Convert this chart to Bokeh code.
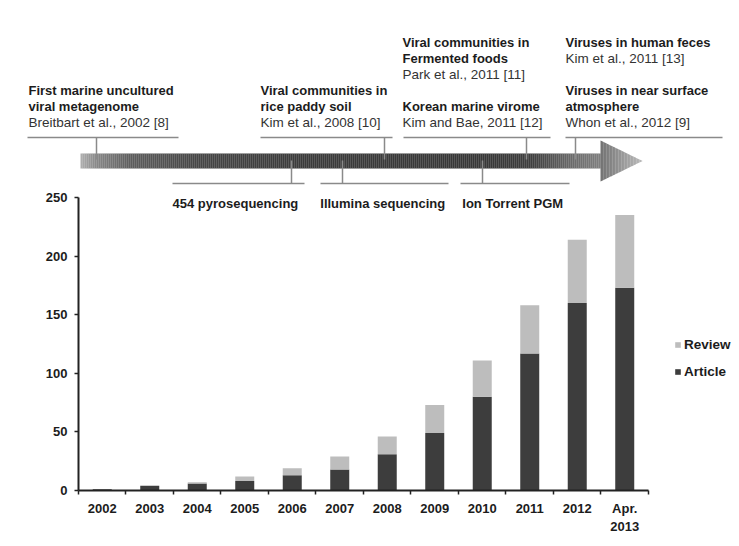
import numpy as np
from bokeh.plotting import figure
from bokeh.models import (Range1d, FixedTicker, Legend, LegendItem, ColumnDataSource)
from bokeh.core.properties import value
from bokeh.embed import file_html
from bokeh.resources import INLINE

# ---------------- data ----------------
years = ["2002", "2003", "2004", "2005", "2006", "2007", "2008", "2009", "2010",
         "2011", "2012", "Apr.\n2013"]
article = [1, 4, 6, 8, 13, 18, 31, 49, 80, 117, 160, 173]
review = [0, 0, 1, 4, 6, 11, 15, 24, 31, 41, 54, 62]
y_ticks = [0, 50, 100, 150, 200, 250]

tech_labels = ["454 pyrosequencing", "Illumina sequencing", "Ion Torrent PGM"]

# timeline annotation texts (bold headline lines / normal citation lines)
bold_lines = ["First marine uncultured", "viral metagenome",
              "Viral communities in", "rice paddy soil",
              "Viral communities in", "Fermented foods", "Korean marine virome",
              "Viruses in human feces", "Viruses in near surface", "atmosphere"]
cite_lines = ["Breitbart et al., 2002 [8]", "Kim et al., 2008 [10]",
              "Park et al., 2011 [11]", "Kim and Bae, 2011 [12]",
              "Kim et al., 2011 [13]", "Whon et al., 2012 [9]"]

# ---------------- layout (page pixel positions for the timeline drawing) ----------------
bold_x = [28, 28, 260, 260, 402, 402, 402, 565, 565, 565]
bold_y = [90, 106, 90, 106, 42, 58, 106, 42, 90, 106]
cite_x = [28, 260, 402, 402, 565, 565]
cite_y = [122, 122, 74, 122, 58, 122]

FONT = value("Liberation Sans")
TXT = "#1c1c1c"
W = 739

top = figure(width=W, height=190, x_range=Range1d(0, W), y_range=Range1d(190, 0),
             output_backend="svg", toolbar_location=None, min_border=0,
             x_axis_location=None, y_axis_location=None)
top.grid.visible = False
top.outline_line_color = None

# arrow body gradient (decoration)
stops_x = [80, 95, 130, 200, 300, 480, 530, 570, 600]
stops_c = [0xb0, 0x8a, 0x5e, 0x46, 0x3c, 0x38, 0x3e, 0x6a, 0x80]
xs = np.arange(80, 600, 2)
cs = np.interp(xs + 1, stops_x, stops_c).astype(int)
top.quad(left=xs, right=xs + 2.2, top=153, bottom=168,
         color=["#%02x%02x%02x" % (c, c, c) for c in cs], line_color=None)
# arrow head gradient
hx = np.arange(600, 642, 1.5)
hc = np.interp(hx, [600, 642], [0x74, 0xbd]).astype(int)
def hy(x):
    return (x - 600) * 20.5 / 42
top.patches(xs=[[a, a + 1.7, a + 1.7, a] for a in hx],
            ys=[[140 + hy(a), 140 + hy(a + 1.7), 181 - hy(a + 1.7), 181 - hy(a)] for a in hx],
            color=["#%02x%02x%02x" % (c, c, c) for c in hc], line_color=None)

LINE = "#8a8a8a"
# bracket lines above arrow
top.segment(x0=[27, 260, 403, 565], x1=[178, 392, 550, 722], y0=137, y1=137,
            line_color=LINE, line_width=1.5)
top.segment(x0=[96, 384, 526, 575], x1=[96, 384, 526, 575], y0=137, y1=159,
            line_color=LINE, line_width=1.5)
# bracket lines below arrow
top.segment(x0=[172, 320, 460], x1=[304, 448, 569], y0=183, y1=183,
            line_color=LINE, line_width=1.5)
top.segment(x0=[291, 342, 482], x1=[291, 342, 482], y0=160, y1=183,
            line_color=LINE, line_width=1.5)

top.text(x=bold_x, y=bold_y, text=bold_lines, text_font=FONT, text_font_style=value("bold"),
         text_font_size=value("13px"), text_baseline=value("middle"), text_color=TXT)
top.text(x=cite_x, y=cite_y, text=cite_lines, text_font=FONT, text_font_style=value("normal"),
         text_font_size=value("13.5px"), text_baseline=value("middle"), text_color="#333333")

# ---------------- bar chart ----------------
n = len(years)
pos = np.arange(n) + 0.5          # category centres on a numeric axis
edges = list(range(n + 1))        # category boundaries (tick marks)
src = ColumnDataSource(dict(pos=pos, article=article, review=review))

p = figure(width=W, height=350, x_range=Range1d(0, 13.916), y_range=Range1d(0, 250),
           output_backend="svg", toolbar_location=None,
           min_border_left=78, min_border_right=0, min_border_top=7, min_border_bottom=50)
p.grid.visible = False
p.outline_line_color = None

rs = p.vbar_stack(["article", "review"], x="pos", width=0.4, source=src,
                  color=["#3d3d3d", "#bdbdbd"], line_color=None)

# technology labels inside the plot area
p.text(x=[1.98, 5.09, 8.08], y=[245, 245, 245], text=tech_labels, text_font=FONT,
       text_font_style=value("bold"), text_font_size=value("13px"),
       text_baseline=value("middle"), text_color=TXT)

yax = p.yaxis[0]
yax.ticker = FixedTicker(ticks=y_ticks)
yax.major_tick_out = 4
yax.major_tick_in = 0
yax.minor_tick_line_color = None
yax.axis_line_width = 2
yax.axis_line_color = "#222222"
yax.major_tick_line_color = "#222222"
yax.major_tick_line_width = 1.5
yax.major_label_text_font = "Liberation Sans"
yax.major_label_text_font_style = "bold"
yax.major_label_text_font_size = "13px"
yax.major_label_text_color = TXT
yax.major_label_standoff = 7

xax = p.xaxis[0]
xax.ticker = FixedTicker(ticks=list(pos), minor_ticks=edges)
xax.major_label_overrides = {float(c): lab for c, lab in zip(pos, years)}
xax.bounds = (0, n)
xax.axis_line_width = 2
xax.axis_line_color = "#222222"
xax.major_tick_line_color = None
xax.major_tick_out = 0
xax.major_tick_in = 0
xax.minor_tick_line_color = "#222222"
xax.minor_tick_line_width = 1.5
xax.minor_tick_out = 4
xax.minor_tick_in = 0
xax.major_label_standoff = 6
xax.major_label_text_font = "Liberation Sans"
xax.major_label_text_font_style = "bold"
xax.major_label_text_font_size = "13px"
xax.major_label_text_color = TXT

legend = Legend(items=[LegendItem(label="Review", renderers=[rs[1]]),
                       LegendItem(label="Article", renderers=[rs[0]])],
                location=(596, 111), margin=0, padding=0, border_line_color=None,
                background_fill_alpha=0, glyph_width=7, glyph_height=7,
                label_standoff=3, label_height=14, spacing=12,
                label_text_font="Liberation Sans", label_text_font_style="bold",
                label_text_font_size="13.5px", label_text_color=TXT)
p.add_layout(legend, "center")

open("out.html", "w").write(file_html([top, p], INLINE))
